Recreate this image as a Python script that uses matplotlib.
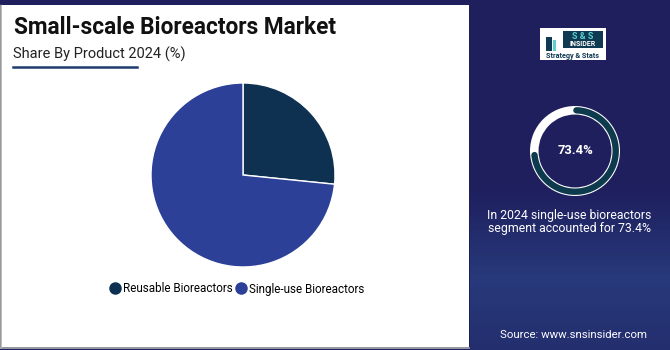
import matplotlib
matplotlib.use("Agg")
import matplotlib.pyplot as plt
import numpy as np
from matplotlib.patches import Rectangle, Wedge
from matplotlib.lines import Line2D
from matplotlib.colors import LinearSegmentedColormap

plt.rcParams['font.family'] = ['Roboto', 'DejaVu Sans']

categories = ["Reusable Bioreactors", "Single-use Bioreactors"]
shares = [26.6, 73.4]
colors = ["#0e3152", "#2b4096"]
highlight_value = 73.4

W, H = 670, 350
fig = plt.figure(figsize=(W / 100, H / 100), dpi=100)
fig.patch.set_facecolor("#1f1f5e")

# background axes in pixel coordinates
bg = fig.add_axes([0, 0, 1, 1])
bg.set_xlim(0, W)
bg.set_ylim(H, 0)
bg.axis("off")
# right gradient panel
grad = np.array([0.0] * 40 + list(np.linspace(0, 1, 20)) + list(np.linspace(1, 0.6, 15)))
grad = grad.reshape(-1, 1)
cmap = LinearSegmentedColormap.from_list("g", ["#1f1f5e", "#27397a"])
bg.imshow(grad, cmap=cmap, extent=[470, W, H, 0], aspect="auto", zorder=0)
# left white panel
bg.add_patch(Rectangle((1, 5), 468, 342, facecolor="white", edgecolor="none", zorder=1))
bg.plot([1, 1], [5, 348], color="#b0b0b0", lw=1.2, zorder=2)
bg.plot([1, 469], [348, 348], color="#b0b0b0", lw=1.2, zorder=2)
bg.plot([0, W], [1.5, 1.5], color="#1f1f5e", lw=4, zorder=2)
# subtitle underline
bg.plot([13, 137], [67, 67], color="#1f3a6e", lw=1.8, zorder=3)

# logo box
bg.add_patch(Rectangle((540, 28), 66, 32, facecolor="white", edgecolor="none", zorder=3))
bg.add_patch(Rectangle((563, 31), 40, 17, facecolor="#0f3a52", edgecolor="none", zorder=4))
bg.text(583, 36.5, "S & S", color="#5ad0d0", fontsize=6.5, fontweight="bold", ha="center", va="center", zorder=5)
bg.text(583, 44.5, "INSIDER", color="white", fontsize=5, fontweight="bold", ha="center", va="center", zorder=5)
bg.text(573, 55.5, "Strategy & Stats", color="#0f3a52", fontsize=5.2, fontweight="bold", ha="center", va="center", zorder=5)
bg.add_patch(Rectangle((546, 37), 6, 14, facecolor="#0f3a52", edgecolor="none", zorder=4))
bg.add_patch(Rectangle((553, 40), 3, 11, facecolor="#5ad0d0", edgecolor="none", zorder=4))

# Titles
fig.text(14 / W, 1 - 27 / H, "Small-scale Bioreactors Market", fontsize=16.3, fontweight="bold",
         color="#111111", ha="left", va="center")
fig.text(13 / W, 1 - 54 / H, "Share By Product 2024 (%)", fontsize=10.5,
         color="#222222", ha="left", va="center")

# Pie
cx, cy, r = 243, 175, 92
ax = fig.add_axes([(cx - r) / W, (H - cy - r) / H, 2 * r / W, 2 * r / H])
wedges, _ = ax.pie(shares, colors=colors, startangle=90, counterclock=False,
                   wedgeprops=dict(edgecolor="white", linewidth=1))
ax.set_xlim(-1, 1)
ax.set_ylim(-1, 1)
ax.set_aspect("equal")

handles = [Line2D([0], [0], marker="o", color="none", markerfacecolor=c, markeredgecolor=c,
                  markersize=8) for c in colors]
fig.legend(handles, categories, loc="center", bbox_to_anchor=(236 / W, 1 - 289 / H), ncol=2,
           frameon=False, fontsize=8.4, handletextpad=0.1, columnspacing=0.1, handlelength=1.2)

# Donut indicator
dcx, dcy, dr = 575, 151, 45
dax = fig.add_axes([(dcx - dr) / W, (H - dcy - dr) / H, 2 * dr / W, 2 * dr / H])
dax.set_xlim(-1, 1)
dax.set_ylim(-1, 1)
dax.set_aspect("equal")
dax.axis("off")
dax.add_patch(Wedge((0, 0), 1.0, 0, 360, width=0.19, facecolor="white", edgecolor="none"))
theta = np.deg2rad(np.linspace(88, 90 - 360 * highlight_value / 100, 200))
dax.plot(0.905 * np.cos(theta), 0.905 * np.sin(theta), color="#0d3a4c", lw=4.6,
         solid_capstyle="round")
dax.text(0, 0, f"{highlight_value}%", color="white", fontsize=9.4, fontweight="bold",
         ha="center", va="center")

fig.text(569 / W, 1 - 222 / H, "In 2024 single-use bioreactors\nsegment accounted for 73.4%",
         color="white", fontsize=8.8, ha="center", va="center", linespacing=1.05)
fig.text(574 / W, 1 - 335 / H, "Source: www.snsinsider.com", color="white", fontsize=8.2,
         ha="center", va="center")

fig.savefig("out.png", dpi=100, facecolor=fig.get_facecolor())
